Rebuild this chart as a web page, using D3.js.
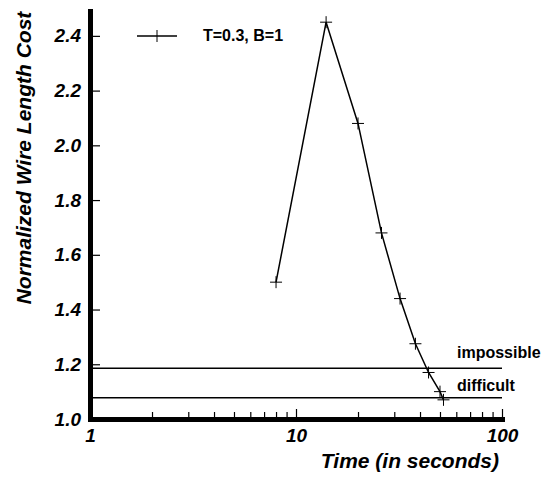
<!DOCTYPE html>
<html>
<head>
<meta charset="utf-8">
<script src="https://cdn.jsdelivr.net/npm/d3@7"></script>
<style>
  body { margin: 0; background: #fff; }
  text { font-family: "Liberation Sans", Arial, sans-serif; font-weight: bold; fill: #000; }
</style>
</head>
<body>
<div id="chart"></div>
<script>
// data
var times = [8, 14, 20, 26, 32, 38, 44, 50, 52];
var costs = [1.50, 2.45, 2.08, 1.68, 1.44, 1.275, 1.17, 1.10, 1.07];
var seriesName = "T=0.3, B=1";
var thresholdValues = [1.185, 1.078];
var thresholdNames = ["impossible", "difficult"];
var yTicks = [1.0, 1.2, 1.4, 1.6, 1.8, 2.0, 2.2, 2.4];
var xMajor = [1, 10, 100];
var xMinor = [2, 3, 4, 5, 6, 7, 8, 9, 20, 30, 40, 50, 60, 70, 80, 90];

var svgWidth = 545, svgHeight = 477;

var svg = d3.select("#chart").append("svg")
    .attr("width", svgWidth)
    .attr("height", svgHeight);

var x = d3.scaleLog().domain([1, 100]).range([90, 502]);
var y = d3.scaleLinear().domain([1, 2.5]).range([419, 8.5]);

// threshold lines
svg.selectAll(".thr")
    .data(thresholdValues)
    .enter().append("line")
    .attr("x1", x(1)).attr("x2", x(100))
    .attr("y1", d => y(d)).attr("y2", d => y(d))
    .attr("stroke", "#000").attr("stroke-width", 1.5);

svg.selectAll(".thrLabel")
    .data(thresholdNames)
    .enter().append("text")
    .attr("x", 457)
    .attr("y", (d, i) => y(thresholdValues[i]) - (i == 0 ? 10 : 6.5))
    .style("font-size", "16px")
    .text(d => d);

// x axis, ticks pointing up into the plot
var xAxis = d3.axisBottom(x)
    .tickValues(xMajor.concat(xMinor))
    .tickSizeInner(-10)
    .tickSizeOuter(0)
    .tickPadding(10)
    .tickFormat(d => xMajor.indexOf(d) >= 0 ? d3.format("d")(d) : "");

var gx = svg.append("g")
    .attr("transform", "translate(0," + y(1) + ")")
    .call(xAxis);
gx.selectAll(".tick line")
    .attr("y2", d => xMajor.indexOf(d) >= 0 ? -10 : -7)
    .attr("stroke-width", 1.2);
gx.select(".domain").attr("stroke-width", 5).attr("stroke-linecap", "square");
gx.selectAll("text")
    .style("font-size", "19px").style("font-style", "italic")
    .attr("font-family", null);

// y axis, ticks pointing right
var yAxis = d3.axisLeft(y)
    .tickValues(yTicks)
    .tickSizeInner(-10)
    .tickSizeOuter(0)
    .tickPadding(9)
    .tickFormat(d3.format(".1f"));

var gy = svg.append("g")
    .attr("transform", "translate(" + x(1) + ",0)")
    .call(yAxis);
gy.selectAll(".tick line").attr("stroke-width", 1.2);
gy.select(".domain").attr("stroke-width", 5);
gy.selectAll("text")
    .style("font-size", "19px").style("font-style", "italic")
    .attr("font-family", null);

// series line
var pts = times.map((t, i) => [t, costs[i]]);
var line = d3.line().x(d => x(d[0])).y(d => y(d[1]));
svg.append("path")
    .datum(pts)
    .attr("d", line)
    .attr("fill", "none")
    .attr("stroke", "#000")
    .attr("stroke-width", 1.5);

// plus markers
var m = 6;
svg.selectAll(".mark")
    .data(pts)
    .enter().append("path")
    .attr("d", d => {
        var cx = x(d[0]), cy = y(d[1]);
        return "M" + (cx - m) + "," + cy + "H" + (cx + m) + "M" + cx + "," + (cy - m) + "V" + (cy + m);
    })
    .attr("stroke", "#000")
    .attr("stroke-width", 1);

// legend
var ly = 36;
svg.append("line")
    .attr("x1", 137).attr("x2", 177).attr("y1", ly).attr("y2", ly)
    .attr("stroke", "#000").attr("stroke-width", 1.5);
svg.append("path")
    .attr("d", "M157," + (ly - m) + "V" + (ly + m))
    .attr("stroke", "#000").attr("stroke-width", 1);
svg.append("text")
    .attr("x", 203).attr("y", ly + 5)
    .style("font-size", "16px")
    .text(seriesName);

// axis titles
svg.append("text")
    .attr("transform", "translate(31,158) rotate(-90)")
    .attr("text-anchor", "middle")
    .style("font-size", "21px").style("font-style", "italic")
    .text("Normalized Wire Length Cost");

svg.append("text")
    .attr("x", 499).attr("y", 468)
    .attr("text-anchor", "end")
    .style("font-size", "21px").style("font-style", "italic")
    .text("Time (in seconds)");
</script>
</body>
</html>
